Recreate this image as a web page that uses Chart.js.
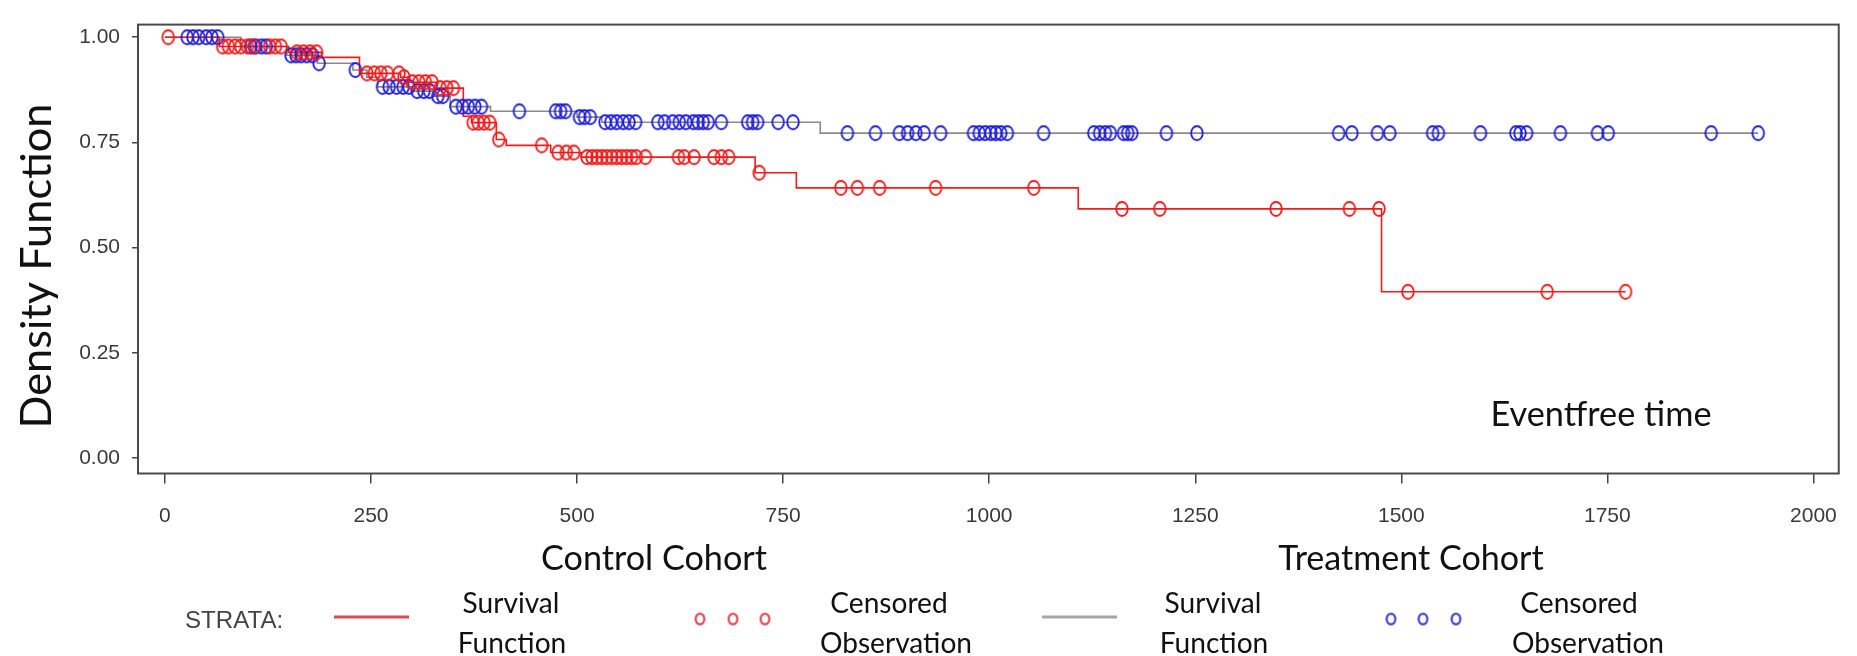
<!DOCTYPE html>
<html>
<head>
<meta charset="utf-8">
<title>Eventfree survival by cohort</title>
<script src="https://cdn.jsdelivr.net/npm/chart.js@4.4.1/dist/chart.umd.min.js"></script>
<style>
    html, body { margin: 0; padding: 0; background: #fff; }
    #kmChart { display: block; }
</style>
</head>
<body>
<canvas id="kmChart" width="1857" height="656"></canvas>
<script>
// axis ticks
const xTicks = [0, 250, 500, 750, 1000, 1250, 1500, 1750, 2000];
const yTicks = [0, 0.25, 0.5, 0.75, 1];

// Control cohort - Kaplan-Meier steps (time where the level starts, survival)
const controlStepTime = [0, 66, 150, 190, 236, 286, 296, 330, 362, 372, 402, 414, 468, 505, 716, 766, 1108, 1476, 1772];
const controlStepSurv = [1.0, 0.978, 0.964, 0.952, 0.914, 0.905, 0.893, 0.879, 0.812, 0.797, 0.757, 0.743, 0.726, 0.715, 0.678, 0.642, 0.592, 0.395, 0.395];

// Control cohort - censored observations
const controlCensorTime = [4,
    70, 77, 85, 92, 100, 108, 127, 134, 141,
    160, 168, 176, 184,
    245, 254, 262, 270, 284,
    290,
    300, 308, 316, 324,
    334, 342, 350,
    374, 380, 387, 394,
    405,
    457,
    477, 487, 496,
    512, 518, 524, 530, 536, 542, 548, 554, 560, 566, 572, 583, 623, 630, 642, 666, 675, 684,
    721,
    820, 840, 867, 935, 1054,
    1161, 1207, 1348, 1437, 1473,
    1508, 1677, 1772];
const controlCensorSurv = [1.0,
    0.978, 0.978, 0.978, 0.978, 0.978, 0.978, 0.978, 0.978, 0.978,
    0.964, 0.964, 0.964, 0.964,
    0.914, 0.914, 0.914, 0.914, 0.914,
    0.905,
    0.893, 0.893, 0.893, 0.893,
    0.879, 0.879, 0.879,
    0.797, 0.797, 0.797, 0.797,
    0.757,
    0.743,
    0.726, 0.726, 0.726,
    0.715, 0.715, 0.715, 0.715, 0.715, 0.715, 0.715, 0.715, 0.715, 0.715, 0.715, 0.715, 0.715, 0.715, 0.715, 0.715, 0.715, 0.715,
    0.678,
    0.642, 0.642, 0.642, 0.642, 0.642,
    0.592, 0.592, 0.592, 0.592, 0.592,
    0.395, 0.395, 0.395];

// Treatment cohort - Kaplan-Meier steps
const treatStepTime = [0, 92, 148, 185, 228, 245, 258, 300, 326, 346, 395, 500, 530, 795, 1933];
const treatStepSurv = [1.0, 0.978, 0.957, 0.938, 0.922, 0.905, 0.882, 0.872, 0.86, 0.835, 0.824, 0.81, 0.798, 0.772, 0.772];

// Treatment cohort - censored observations
const treatCensorTime = [27, 34, 41, 50, 57, 64,
    104, 110, 117, 123,
    153, 159, 165, 172, 179,
    187,
    231,
    264, 272, 281, 289, 296,
    306, 314, 321,
    331, 337,
    353, 361, 368, 376, 384,
    430, 474, 480, 486,
    503, 509, 516,
    534, 541, 548, 556, 563, 571, 598, 606, 616, 624, 632, 641, 647, 653, 659, 675, 707, 713, 719, 744, 762,
    828, 862, 891, 901, 911, 921, 941, 981, 988, 995, 1002, 1008, 1014, 1022, 1066, 1127, 1134, 1141, 1147,
    1163, 1168, 1173, 1215, 1252, 1424, 1440, 1471, 1486, 1538, 1545, 1596, 1639, 1644, 1652, 1693, 1738, 1751, 1876, 1933];
const treatCensorSurv = [1.0, 1.0, 1.0, 1.0, 1.0, 1.0,
    0.978, 0.978, 0.978, 0.978,
    0.957, 0.957, 0.957, 0.957, 0.957,
    0.938,
    0.922,
    0.882, 0.882, 0.882, 0.882, 0.882,
    0.872, 0.872, 0.872,
    0.86, 0.86,
    0.835, 0.835, 0.835, 0.835, 0.835,
    0.824, 0.824, 0.824, 0.824,
    0.81, 0.81, 0.81,
    0.798, 0.798, 0.798, 0.798, 0.798, 0.798, 0.798, 0.798, 0.798, 0.798, 0.798, 0.798, 0.798, 0.798, 0.798, 0.798, 0.798, 0.798, 0.798, 0.798, 0.798,
    0.772, 0.772, 0.772, 0.772, 0.772, 0.772, 0.772, 0.772, 0.772, 0.772, 0.772, 0.772, 0.772, 0.772, 0.772, 0.772, 0.772, 0.772, 0.772,
    0.772, 0.772, 0.772, 0.772, 0.772, 0.772, 0.772, 0.772, 0.772, 0.772, 0.772, 0.772, 0.772, 0.772, 0.772, 0.772, 0.772, 0.772, 0.772, 0.772];

const toPoints = (xs, ys) => xs.map((x, i) => ({ x: x, y: ys[i] }));

// the "O" marker used by the original plot (a slightly tall ellipse)
function makeMarker(color, rx, ry, lw) {
    const c = document.createElement('canvas');
    c.width = Math.ceil(rx * 2 + lw * 2 + 2);
    c.height = Math.ceil(ry * 2 + lw * 2 + 2);
    const g = c.getContext('2d');
    g.strokeStyle = color;
    g.lineWidth = lw;
    g.beginPath();
    g.ellipse(c.width / 2, c.height / 2, rx, ry, 0, 0, Math.PI * 2);
    g.stroke();
    return c;
}

const redMarker = makeMarker('#f01818', 5.8, 7, 1.8);
const blueMarker = makeMarker('#1c1cd8', 5.8, 7, 1.8);

function fitFont(ctx, text, family, width, weight) {
    ctx.font = (weight || '') + ' 100px ' + family;
    const w = ctx.measureText(text).width;
    return (weight || '') + ' ' + (100 * width / w).toFixed(1) + 'px ' + family;
}

const labelFont = 'Lato, "Open Sans", sans-serif';

// extra text, frame and the STRATA legend
const extrasPlugin = {
    id: 'extras',
    afterDraw(chart) {
        const ctx = chart.ctx;
        const a = chart.chartArea;
        ctx.save();

        // frame
        ctx.strokeStyle = '#4a4a4a';
        ctx.lineWidth = 2;
        ctx.strokeRect(a.left, a.top, a.right - a.left, a.bottom - a.top);

        ctx.fillStyle = '#111';
        ctx.textAlign = 'center';
        ctx.textBaseline = 'alphabetic';

        // y axis title
        ctx.save();
        ctx.translate(51, 266);
        ctx.rotate(-Math.PI / 2);
        ctx.font = fitFont(ctx, 'Density Function', labelFont, 325);
        ctx.fillText('Density Function', 0, 0);
        ctx.restore();

        // labels inside / under the plot
        ctx.font = fitFont(ctx, 'Eventfree time', labelFont, 221);
        ctx.fillText('Eventfree time', 1601, 426);
        ctx.font = fitFont(ctx, 'Control Cohort', labelFont, 226);
        ctx.fillText('Control Cohort', 654, 570);
        ctx.font = fitFont(ctx, 'Treatment Cohort', labelFont, 266);
        ctx.fillText('Treatment Cohort', 1411, 570);

        // legend
        ctx.fillStyle = '#444';
        ctx.textAlign = 'left';
        ctx.font = fitFont(ctx, 'STRATA:', '"Liberation Sans", Arial, sans-serif', 98);
        ctx.fillText('STRATA:', 185, 628);

        ctx.lineWidth = 3;
        ctx.strokeStyle = '#dc4a55';
        ctx.beginPath(); ctx.moveTo(334, 617); ctx.lineTo(409, 617); ctx.stroke();
        ctx.strokeStyle = '#a6a6a6';
        ctx.beginPath(); ctx.moveTo(1042, 617); ctx.lineTo(1117, 617); ctx.stroke();

        const smallRed = makeMarker('#e0303f', 4.3, 5.3, 2);
        const smallBlue = makeMarker('#2a2ac8', 4.3, 5.3, 2);
        [700, 733, 765].forEach(x => ctx.drawImage(smallRed, x - smallRed.width / 2, 619 - smallRed.height / 2));
        [1391, 1423, 1456].forEach(x => ctx.drawImage(smallBlue, x - smallBlue.width / 2, 619 - smallBlue.height / 2));

        ctx.fillStyle = '#111';
        ctx.textAlign = 'center';
        const legFont = fitFont(ctx, 'Observation', labelFont, 152);
        ctx.font = legFont;
        ctx.fillText('Survival', 511, 613);
        ctx.fillText('Function', 512, 653);
        ctx.fillText('Censored', 889, 613);
        ctx.fillText('Observation', 896, 653);
        ctx.fillText('Survival', 1213, 613);
        ctx.fillText('Function', 1214, 653);
        ctx.fillText('Censored', 1579, 613);
        ctx.fillText('Observation', 1588, 653);

        ctx.restore();
    }
};

const tickFont = { family: '"Liberation Sans", Arial, sans-serif', size: 21 };

const kmCtx = document.getElementById('kmChart').getContext('2d');
const kmChart = new Chart(kmCtx, {
    type: 'line',
    data: {
        datasets: [{
            label: 'Control - Censored Observation',
            data: toPoints(controlCensorTime, controlCensorSurv),
            showLine: false,
            pointStyle: redMarker,
            pointRadius: 6,
            order: 1
        }, {
            label: 'Treatment - Censored Observation',
            data: toPoints(treatCensorTime, treatCensorSurv),
            showLine: false,
            pointStyle: blueMarker,
            pointRadius: 6,
            order: 2
        }, {
            label: 'Control - Survival Function',
            data: toPoints(controlStepTime, controlStepSurv),
            stepped: 'before',
            borderColor: '#f21a1a',
            borderWidth: 1.6,
            pointRadius: 0,
            fill: false,
            order: 3
        }, {
            label: 'Treatment - Survival Function',
            data: toPoints(treatStepTime, treatStepSurv),
            stepped: 'before',
            borderColor: '#8a8a8a',
            borderWidth: 1.6,
            pointRadius: 0,
            fill: false,
            order: 4
        }]
    },
    options: {
        responsive: false,
        animation: false,
        devicePixelRatio: 1,
        layout: { padding: { top: 10, right: 14, left: 0, bottom: 0 } },
        plugins: {
            legend: { display: false },
            tooltip: { enabled: false }
        },
        scales: {
            x: {
                type: 'linear',
                min: -32.7,
                max: 2030.7,
                afterBuildTicks: s => { s.ticks = xTicks.map(v => ({ value: v })); },
                afterFit: s => { s.height = 182.5; },
                grid: { drawOnChartArea: false, drawTicks: true, tickLength: 10, color: '#444', lineWidth: 1.5 },
                border: { display: false },
                ticks: {
                    color: '#3a3a3a',
                    font: tickFont,
                    padding: 20,
                    autoSkip: false,
                    maxRotation: 0,
                    callback: v => String(v)
                }
            },
            y: {
                type: 'linear',
                min: -0.0369,
                max: 1.030,
                afterBuildTicks: s => { s.ticks = yTicks.map(v => ({ value: v })); },
                afterFit: s => { s.width = 138; },
                grid: { drawOnChartArea: false, drawTicks: true, tickLength: 6, color: '#444', lineWidth: 1.5 },
                border: { display: false },
                ticks: {
                    color: '#3a3a3a',
                    font: tickFont,
                    padding: 12,
                    callback: v => v.toFixed(2)
                }
            }
        }
    },
    plugins: [extrasPlugin]
});
</script>
</body>
</html>
